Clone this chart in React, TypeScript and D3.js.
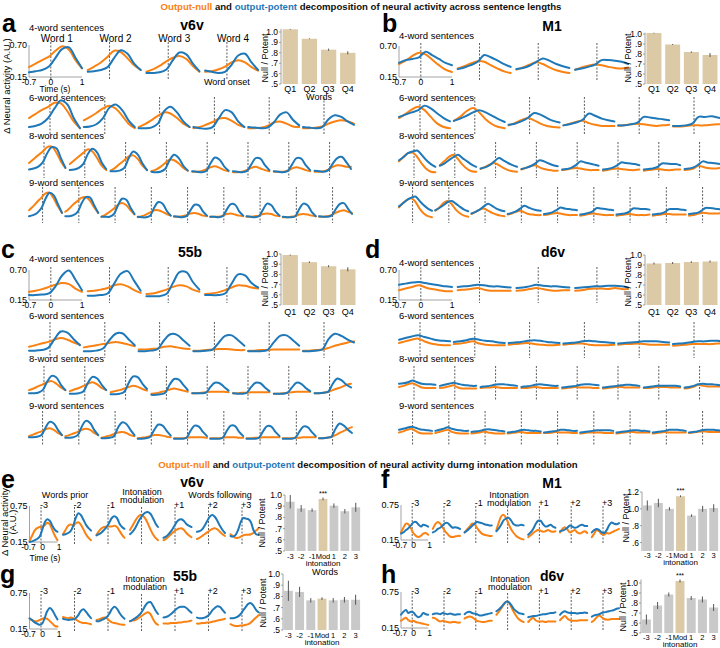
import React from "react";
import * as d3 from "d3";

const FONT = "'Liberation Sans', Arial, Helvetica, sans-serif";
const ORANGE = "#f98212";
const BLUE = "#1f78b8";
const TAN = "#dccaa6";
const GREY = "#c9c9c9";
const AXIS = "#8a8a8a";
const DASH = "#333";

// sample times (s) for the traces
const T_SENT = [-0.7, -0.49, -0.28, -0.06, 0.15, 0.36, 0.58, 0.79, 1.0];
const T_INTO = [-0.7, -0.55, -0.39, -0.24, -0.08, 0.07, 0.23, 0.38, 0.54, 0.69, 0.85, 1.0];

// ---------- panel a : v6v (values in 1/100 A.U.) ----------
const v6vNull4 = [[32,38,44,50,60,68,62,44,30],[27,33,40,50,60,58,47,35,27],[24,28,34,42,48,51,46,34,24],[24,25,28,33,40,44,40,32,26]];
const v6vPot4 = [[23,25,27,33,48,63,66,48,30],[24,25,27,32,48,61,55,38,27],[22,22,23,28,44,57,54,38,25],[26,24,22,24,36,52,55,40,27]];
const v6vNull6 = [[38,45,52,58,65,64,50,32,20],[34,40,47,55,60,55,42,28,20],[22,27,34,42,48,46,38,28,22],[20,22,26,31,37,38,33,26,22],[20,20,21,24,30,32,28,23,22],[20,20,21,23,28,32,34,32,28]];
const v6vPot6 = [[22,24,28,38,55,69,62,38,20],[22,23,27,38,56,62,52,34,22],[20,20,21,28,50,58,48,32,22],[22,20,19,22,38,52,48,32,22],[22,21,20,21,30,44,48,35,25],[22,21,20,22,36,43,40,32,26]];
const v6vNull8 = [[37,44,51,58,66,67,56,40,28],[35,42,49,56,62,58,46,32,24],[23,28,35,42,49,51,44,32,24],[22,25,30,37,43,42,36,28,23],[21,21,22,25,29,31,28,24,22],[20,20,21,24,28,30,27,24,22],[21,21,21,23,27,29,27,24,22],[21,21,22,25,30,33,32,30,30]];
const v6vPot8 = [[25,27,30,38,55,66,64,46,28],[24,25,28,36,54,63,56,38,26],[22,22,23,28,46,58,52,36,24],[21,20,21,26,42,52,46,32,23],[22,21,20,22,36,47,43,31,23],[22,21,20,22,34,46,45,33,24],[22,21,20,22,34,46,45,33,24],[23,22,21,24,36,46,48,38,26]];
const v6vNull9 = [[33,40,48,56,64,65,54,40,28],[30,36,44,50,56,57,50,38,28],[21,25,30,36,43,46,42,33,25],[20,22,25,29,33,33,30,26,23],[21,21,22,24,27,28,26,23,22],[21,21,21,23,26,27,25,23,22],[21,21,22,23,26,27,26,23,22],[20,20,21,22,25,26,25,23,22],[21,21,22,24,28,31,33,30,28]];
const v6vPot9 = [[22,24,28,37,54,65,60,44,28],[22,22,24,30,46,57,56,42,28],[21,21,21,26,42,54,52,38,26],[21,20,20,23,38,48,45,32,23],[22,21,20,22,33,43,42,31,23],[21,21,20,22,34,44,43,31,23],[22,21,20,22,34,45,42,31,23],[21,20,20,22,35,45,42,30,22],[22,21,21,23,34,44,46,36,26]];

// ---------- panel b : M1 ----------
const m1Null4 = [[38,44,52,58,55,46,36,28,24],[30,34,39,43,42,36,30,25,22],[28,32,37,41,38,32,27,24,22],[28,32,35,37,36,33,31,30,32]];
const m1Pot4 = [[40,45,47,50,60,54,47,40,36],[29,32,36,42,54,50,44,38,33],[29,31,35,42,48,44,38,34,31],[28,30,33,37,45,45,44,42,38]];
const m1Null6 = [[38,45,53,58,52,40,28,22,20],[33,40,50,56,48,36,27,22,20],[25,29,34,38,34,28,24,22,21],[25,28,31,33,29,26,24,24,24],[24,25,27,28,27,25,24,25,26],[23,23,24,25,25,25,26,27,27]];
const m1Pot6 = [[40,44,48,52,60,55,46,38,32],[33,37,42,48,52,48,42,36,31],[26,28,32,38,47,44,38,33,30],[25,27,30,35,46,42,37,34,32],[25,25,27,30,40,39,37,36,34],[24,24,25,28,40,40,41,39,36]];
const m1Null8 = [[40,48,55,56,48,36,26,21,20],[33,40,48,52,44,34,26,22,21],[26,30,34,37,33,28,24,22,21],[25,28,31,33,29,26,24,23,23],[24,25,27,28,27,25,24,24,24],[23,24,26,27,26,25,24,24,25],[23,24,25,26,25,24,24,25,25],[24,25,27,32,30,28,27,27,28]];
const m1Pot8 = [[42,48,55,58,60,52,42,35,30],[32,36,42,48,52,46,40,34,30],[27,29,33,40,46,42,37,33,30],[26,28,31,36,42,40,36,33,31],[25,26,28,33,40,38,36,34,32],[25,26,28,32,38,37,36,35,33],[25,26,27,30,36,36,35,35,33],[26,27,29,34,40,38,37,36,35]];
const m1Null9 = [[38,46,52,55,48,36,27,22,20],[32,38,46,50,44,34,27,23,21],[26,30,34,36,32,28,25,23,22],[25,27,30,32,29,26,25,24,24],[24,25,27,28,27,25,24,24,24],[23,24,26,27,26,25,24,24,24],[23,24,25,26,25,24,24,24,25],[23,24,25,26,26,25,25,25,25],[23,24,26,28,28,27,27,27,28]];
const m1Pot9 = [[40,46,52,56,58,50,42,36,32],[33,37,42,48,50,45,39,34,31],[27,30,34,40,45,41,36,33,31],[26,28,31,36,41,38,35,33,32],[26,27,29,33,38,36,35,34,33],[25,26,28,31,37,36,35,34,33],[25,26,27,30,36,36,35,35,34],[25,26,27,30,35,35,35,34,33],[26,27,28,32,37,37,36,35,34]];

// ---------- panel c : 55b ----------
const b55Null4 = [[30,32,35,39,43,46,44,36,30],[31,32,34,37,42,44,40,33,28],[26,27,30,34,39,42,40,34,30],[26,27,29,33,38,42,41,38,36]];
const b55Pot4 = [[24,24,25,27,40,60,69,52,33],[23,23,24,27,45,63,68,50,32],[22,22,22,26,46,66,66,48,34],[24,24,24,27,45,62,60,46,38]];
const b55Null6 = [[30,33,36,39,43,46,43,38,34],[29,31,33,35,37,39,37,34,31],[25,25,26,27,30,31,29,27,26],[23,23,24,25,26,26,25,24,24],[23,23,24,24,25,25,25,25,25],[23,23,24,25,28,32,35,38,40]];
const b55Pot6 = [[23,23,24,28,44,58,56,44,33],[22,22,23,27,42,54,55,44,33],[22,22,23,26,42,53,52,42,32],[22,22,23,25,38,50,51,42,32],[22,22,22,24,38,50,51,42,32],[22,22,23,25,44,54,50,43,38]];
const b55Null8 = [[30,33,37,41,45,47,42,35,30],[28,31,34,38,42,45,41,34,30],[26,28,30,33,36,38,36,32,29],[23,24,26,28,31,33,31,29,27],[24,24,25,26,27,27,27,27,26],[24,24,25,25,26,26,26,26,26],[23,23,24,25,26,27,27,27,27],[24,24,25,27,30,33,36,40,42]];
const b55Pot8 = [[24,24,25,30,46,57,54,40,30],[23,23,24,28,44,55,52,40,30],[22,22,23,27,44,56,54,42,32],[21,21,22,25,40,51,50,40,30],[24,24,24,25,36,44,43,36,29],[24,23,23,25,36,44,43,35,28],[23,23,23,25,35,44,42,34,28],[24,24,25,27,42,52,48,40,35]];
const b55Null9 = [[28,31,34,37,41,43,40,34,30],[28,30,33,36,40,42,40,34,30],[25,27,29,32,35,36,34,30,28],[24,25,26,28,30,30,29,27,26],[24,24,24,25,26,26,26,26,25],[24,24,24,25,26,26,26,25,25],[24,24,25,25,26,26,26,26,26],[24,24,24,25,25,26,26,26,26],[24,24,25,27,30,34,38,42,45]];
const b55Pot9 = [[26,26,27,30,44,55,52,40,30],[25,25,26,30,46,57,53,40,30],[24,24,25,28,44,54,51,40,30],[23,23,24,27,40,50,48,38,29],[23,23,23,25,38,48,46,36,28],[23,23,23,25,38,48,47,36,28],[23,23,23,25,37,47,46,36,28],[23,23,23,25,36,46,45,36,28],[24,24,25,27,42,52,48,40,34]];

// ---------- panel d : d6v ----------
const d6vNull4 = [[33,36,39,42,38,35,33,31,31],[33,34,35,37,34,32,32,32,32],[32,33,35,37,35,33,32,33,33],[32,33,35,36,36,35,37,35,35]];
const d6vPot4 = [[43,45,47,48,46,44,42,40,39],[39,40,41,43,42,40,40,39,38],[37,38,40,43,41,40,40,39,38],[37,38,39,40,40,41,41,40,38]];
const d6vNull6 = [[37,40,43,45,40,36,34,33,33],[35,36,38,40,36,34,33,33,33],[34,35,36,37,35,34,33,33,34],[34,35,36,36,34,33,33,33,34],[34,35,35,36,35,34,34,34,34],[32,33,34,35,35,35,35,36,36]];
const d6vPot6 = [[43,46,49,51,48,45,42,41,40],[39,40,42,45,43,41,40,38,37],[37,38,39,41,42,41,39,38,37],[36,37,38,40,41,40,39,38,37],[36,37,38,39,40,40,40,39,38],[35,36,37,39,40,40,41,41,39]];
const d6vNull8 = [[36,38,41,43,39,35,34,34,34],[34,35,37,39,35,33,33,33,33],[34,35,35,36,35,34,34,34,34],[34,34,35,36,35,34,34,34,34],[33,34,35,36,35,35,35,34,34],[33,34,35,36,36,35,35,35,35],[34,34,35,36,36,36,35,35,35],[33,34,36,40,38,37,37,37,37]];
const d6vPot8 = [[42,43,45,48,45,42,41,41,40],[38,40,42,44,42,40,39,38,38],[36,37,38,40,41,41,40,39,38],[36,37,38,40,41,40,39,38,38],[35,36,37,38,40,41,41,40,39],[35,36,37,38,39,40,40,39,38],[35,36,37,38,38,38,38,38,37],[35,36,38,41,42,41,41,40,39]];
const d6vNull9 = [[35,37,40,42,38,34,33,33,33],[34,36,38,40,36,34,33,33,33],[33,34,35,37,35,34,33,33,33],[33,34,35,36,35,34,34,34,34],[34,34,35,36,35,35,35,34,34],[33,34,35,35,35,35,34,34,34],[33,34,35,36,36,35,35,35,35],[33,34,35,36,35,35,35,35,35],[34,35,36,37,37,36,36,36,36]];
const d6vPot9 = [[40,42,44,46,44,41,40,39,38],[38,40,42,45,42,40,39,38,38],[36,37,38,40,41,40,39,38,37],[35,36,37,39,40,39,38,38,37],[35,36,37,38,40,40,39,38,38],[35,36,37,38,39,39,39,39,38],[35,36,37,38,39,39,38,38,37],[35,36,37,38,40,40,40,39,38],[35,36,37,39,40,40,40,39,38]];

// ---------- panels e-h : intonation modulation ----------
const v6vIntNull = [[17,25,34,38,40,40,43,47,44,35,25,18],[28,35,42,44,43,46,48,44,36,28,22,18],[27,33,38,40,41,41,41,42,40,34,27,22],[35,42,50,56,60,59,54,46,36,28,22,18],[18,20,24,28,32,35,37,38,35,30,26,23],[20,22,25,28,31,34,37,38,36,32,28,25],[28,25,22,22,24,26,27,27,28,30,34,38]];
const v6vIntPot = [[15,16,18,20,24,35,48,53,50,42,35,32],[27,28,30,33,42,55,63,60,52,44,38,34],[26,28,31,35,40,47,55,58,55,46,40,37],[28,32,38,46,54,60,64,65,62,55,46,40],[22,24,28,33,40,47,52,53,50,45,42,40],[32,33,36,42,50,57,60,57,50,42,35,30],[25,24,27,35,48,55,54,53,48,35,28,27]];
const m1IntNull = [[28,36,43,42,35,27,22,20,22,26,27,24],[34,42,46,43,36,30,25,21,20,21,22,22],[28,33,38,43,42,36,30,26,24,23,22,22],[32,45,56,58,52,42,33,27,22,19,17,16],[20,23,27,30,32,31,29,30,32,30,29,30],[28,34,37,33,28,30,32,28,26,28,30,27],[20,26,32,30,25,24,27,26,28,30,32,34]];
const m1IntPot = [[26,28,32,35,40,45,46,42,38,41,40,38],[28,30,34,36,40,44,44,40,36,37,36,34],[28,31,35,39,43,46,45,44,42,41,40,40],[30,35,42,49,52,53,48,42,40,40,41,40],[24,28,34,42,48,48,42,38,39,41,38,36],[30,31,33,36,40,38,36,37,40,41,39,39],[28,32,34,32,28,27,32,40,45,43,42,44]];
const b55IntNull = [[32,30,28,28,30,32,33,32,28,24,20,19],[35,34,33,34,33,31,28,26,25,25,24,23],[30,31,33,34,33,29,26,25,24,23,22,22],[28,29,30,32,35,38,41,43,40,32,25,22],[24,24,24,25,25,25,26,26,27,27,28,29],[24,24,25,25,26,26,27,28,29,30,31,32],[23,21,20,20,21,21,22,23,26,30,34,38]];
const b55IntPot = [[33,30,26,24,22,24,34,45,50,46,38,31],[32,31,30,31,31,33,38,45,48,44,38,33],[28,28,30,32,35,40,48,52,49,42,36,32],[28,30,33,36,40,46,54,59,60,54,46,40],[34,35,37,40,44,48,51,52,52,50,46,42],[34,33,33,34,36,40,46,50,53,52,47,42],[33,33,34,36,40,46,52,57,58,54,47,43]];
const d6vIntNull = [[27,30,32,28,26,27,25,24,23,22,21,20],[32,31,28,26,27,26,25,24,25,25,24,24],[31,33,34,33,30,27,26,25,25,26,27,27],[37,42,48,54,59,58,50,42,35,30,27,25],[25,29,32,28,26,26,26,25,26,26,26,26],[28,32,35,31,28,27,27,27,28,28,28,28],[25,28,33,36,33,30,29,29,30,30,30,30]];
const d6vIntPot = [[37,42,45,40,42,41,36,33,35,40,38,37],[38,39,39,38,40,39,38,39,38,37,38,38],[38,41,42,40,39,38,36,36,37,38,39,40],[43,46,50,55,59,58,53,47,43,40,39,38],[33,34,35,35,36,37,38,38,39,40,40,41],[37,41,43,41,40,40,40,39,40,40,41,40],[34,36,37,38,40,41,42,43,44,45,47,48]];

// ---------- Null / Potent ratios ----------
const quartiles = ["Q1", "Q2", "Q3", "Q4"];
const v6vRatio = [1.026, 0.935, 0.83, 0.80];
const v6vRatioErr = [0.004, 0.004, 0.01, 0.015];
const m1Ratio = [1.01, 0.895, 0.82, 0.79];
const m1RatioErr = [0.003, 0.005, 0.007, 0.02];
const b55Ratio = [0.99, 0.92, 0.88, 0.85];
const b55RatioErr = [0.005, 0.008, 0.01, 0.02];
const d6vRatio = [0.915, 0.92, 0.93, 0.935];
const d6vRatioErr = [0.01, 0.01, 0.008, 0.01];

const intoCats = ["-3", "-2", "-1", "Mod", "1", "2", "3"];
const v6vIntRatio = [0.94, 0.88, 0.865, 0.965, 0.905, 0.855, 0.89];
const v6vIntErr = [0.06, 0.03, 0.015, 0.012, 0.02, 0.02, 0.04];
const m1IntRatio = [1.04, 1.07, 1.0, 1.15, 0.92, 1.0, 1.01];
const m1IntErr = [0.06, 0.05, 0.02, 0.01, 0.015, 0.035, 0.045];
const b55IntRatio = [0.85, 0.84, 0.765, 0.78, 0.765, 0.77, 0.77];
const b55IntErr = [0.09, 0.045, 0.02, 0.012, 0.02, 0.025, 0.045];
const d6vIntRatio = [0.635, 0.775, 0.885, 1.02, 0.85, 0.835, 0.755];
const d6vIntErr = [0.05, 0.035, 0.02, 0.015, 0.02, 0.03, 0.035];

const ratioTicks = [0.5, 0.6, 0.7, 0.8, 0.9, 1.0];
const m1IntTicks = [0.6, 0.8, 1.0, 1.2];
const intoOffsets = ["-3", "-2", "-1", "", "+1", "+2", "+3"];

// layout of sentence rows: horizontal step and trace width by sentence length
const SENT_GEOM: Record<number, { step: number; w: number }> = {
  4: { step: 58.7, w: 53 },
  6: { step: 54.8, w: 51 },
  8: { step: 40.8, w: 36.4 },
  9: { step: 36.25, w: 33 },
};

const fmtTick = (v: number) => (v >= 1 ? d3.format(".1f")(v) : d3.format(".1f")(v).replace(/^0/, ""));

function Trace({ vals, ts, xs, ys, color }: any) {
  const d = d3
    .line<number>()
    .x((_, i) => xs(ts[i]))
    .y((v) => ys(v / 100))
    .curve(d3.curveCatmullRom.alpha(0.5))(vals);
  return <path d={d || ""} fill="none" stroke={color} strokeWidth={2} strokeLinejoin="round" strokeLinecap="round" />;
}

function SentencePanel({ x0, tops, bottoms, labelYs, nulls, pots }: any) {
  const g0 = SENT_GEOM[nulls[0].length];
  const xs0 = d3.scaleLinear([-0.7, 1], [x0, x0 + g0.w]);
  return (
    <g>
      <line x1={x0} x2={x0} y1={tops[0]} y2={bottoms[0]} stroke={AXIS} strokeWidth={0.8} />
      <line x1={x0} x2={x0 + g0.w} y1={bottoms[0]} y2={bottoms[0]} stroke={AXIS} strokeWidth={0.8} />
      <text x={x0 - 2} y={tops[0] + 3} fontSize={9} textAnchor="end">0.70</text>
      <text x={x0 - 2} y={bottoms[0] + 3} fontSize={9} textAnchor="end">0.15</text>
      {[-0.7, 0, 1].map((t) => (
        <text key={t} x={xs0(t)} y={bottoms[0] + 8} fontSize={8.5} textAnchor="middle">{t === -0.7 ? "-0.7" : String(t)}</text>
      ))}
      {nulls.map((rowN: number[][], r: number) => {
        const n = rowN.length;
        const g = SENT_GEOM[n];
        const ys = d3.scaleLinear([0.15, 0.7], [bottoms[r], tops[r]]);
        return (
          <g key={r}>
            <text x={x0} y={labelYs[r]} fontSize={9.5}>{`${n}-word sentences`}</text>
            {rowN.map((vals, j) => {
              const px = x0 + j * g.step;
              const xs = d3.scaleLinear([-0.7, 1], [px, px + g.w]);
              return (
                <g key={j}>
                  <line x1={xs(0)} x2={xs(0)} y1={tops[r] - 3} y2={bottoms[r] + 3} stroke={DASH} strokeWidth={0.8} strokeDasharray="2,1.5" />
                  <Trace vals={vals} ts={T_SENT} xs={xs} ys={ys} color={ORANGE} />
                  <Trace vals={pots[r][j]} ts={T_SENT} xs={xs} ys={ys} color={BLUE} />
                </g>
              );
            })}
          </g>
        );
      })}
    </g>
  );
}

function IntoPanel({ x0, top, bottom, step, w, nulls, pots, numY, modX, modY }: any) {
  const ys = d3.scaleLinear([0.15, 0.75], [bottom, top]);
  const xs0 = d3.scaleLinear([-0.7, 1], [x0, x0 + w]);
  return (
    <g>
      <line x1={x0} x2={x0} y1={top} y2={bottom} stroke={AXIS} strokeWidth={0.8} />
      <line x1={x0} x2={x0 + w} y1={bottom} y2={bottom} stroke={AXIS} strokeWidth={0.8} />
      <text x={x0 - 2} y={top + 3} fontSize={9} textAnchor="end">0.75</text>
      <text x={x0 - 2} y={bottom + 3} fontSize={9} textAnchor="end">0.15</text>
      {[-0.7, 0, 1].map((t) => (
        <text key={t} x={xs0(t) + (t === -0.7 ? -1 : 1.5)} y={bottom + 8} fontSize={8.5} textAnchor="middle">{t === -0.7 ? "-0.7" : String(t)}</text>
      ))}
      <text x={modX} y={modY} fontSize={9} textAnchor="middle">Intonation</text>
      <text x={modX} y={modY + 8} fontSize={9} textAnchor="middle">modulation</text>
      {nulls.map((vals: number[], j: number) => {
        const px = x0 + j * step;
        const xs = d3.scaleLinear([-0.7, 1], [px, px + w]);
        return (
          <g key={j}>
            <line x1={xs(0)} x2={xs(0)} y1={top + 1} y2={bottom + 3} stroke={DASH} strokeWidth={0.8} strokeDasharray="2,1.5" />
            {intoOffsets[j] && (
              <text x={xs(0) - 1} y={numY} fontSize={9}>{intoOffsets[j]}</text>
            )}
            <Trace vals={vals} ts={T_INTO} xs={xs} ys={ys} color={ORANGE} />
            <Trace vals={pots[j]} ts={T_INTO} xs={xs} ys={ys} color={BLUE} />
          </g>
        );
      })}
    </g>
  );
}

function BarChart({ x0, x1, v0, y0, v1, y1, cats, vals, errs, colors, ticks, catY, titleX, titleY, pad, stars, catFont, intoLabel }: any) {
  const ys = d3.scaleLinear([v0, v1], [y0, y1]);
  const xb = d3.scaleBand<string>().domain(cats).range([x0, x1]).paddingInner(pad).paddingOuter(0.08);
  const top = Math.max(d3.max(ticks as number[])!, d3.max(vals.map((v: number, i: number) => v + errs[i]))!);
  const cx = (c: string) => xb(c)! + xb.bandwidth() / 2;
  return (
    <g>
      <line x1={x0} x2={x0} y1={ys(v0)} y2={ys(top)} stroke={AXIS} strokeWidth={0.8} />
      {ticks.map((t: number) => (
        <g key={t}>
          <line x1={x0 - 2} x2={x0} y1={ys(t)} y2={ys(t)} stroke={AXIS} strokeWidth={0.8} />
          <text x={x0 - 3} y={ys(t) + 3} fontSize={8.5} textAnchor="end">{fmtTick(t)}</text>
        </g>
      ))}
      {cats.map((c: string, i: number) => (
        <g key={c}>
          <rect x={xb(c)} y={ys(vals[i])} width={xb.bandwidth()} height={ys(v0) - ys(vals[i])} fill={colors[i]} />
          <line x1={cx(c)} x2={cx(c)} y1={ys(vals[i] - errs[i])} y2={ys(vals[i] + errs[i])} stroke="#555" strokeWidth={1} />
          <text x={cx(c)} y={catY} fontSize={catFont || 9} textAnchor="middle">{c}</text>
          {stars && c === "Mod" && (
            <text x={cx(c)} y={ys(vals[i] + errs[i]) - 2} fontSize={7} textAnchor="middle">***</text>
          )}
        </g>
      ))}
      {intoLabel && (
        <text x={cx("Mod")} y={catY + 7} fontSize={8} textAnchor="middle">intonation</text>
      )}
      <text transform={`translate(${titleX},${titleY}) rotate(-90)`} fontSize={9} textAnchor="middle">Null / Potent</text>
    </g>
  );
}

function PanelLabel({ x, y, letter }: any) {
  return <text x={x} y={y} fontSize={25} fontWeight="bold">{letter}</text>;
}
function AreaTitle({ x, y, name }: any) {
  return <text x={x} y={y} fontSize={14} fontWeight="bold" textAnchor="middle">{name}</text>;
}

export default function App() {
  const tanSet = quartiles.map(() => TAN);
  const intoColors = intoCats.map((c) => (c === "Mod" ? TAN : GREY));
  const wordX = d3.range(4).map((j) => 29 + j * SENT_GEOM[4].step + 0.7 * (SENT_GEOM[4].w / 1.7));
  return (
    <svg width={720} height={648} style={{ position: "absolute", left: 0, top: 0, background: "#fff" }} fontFamily={FONT}>
      <rect width={720} height={648} fill="#fff" />
      <text x={361} y={10} fontSize={9.6} fontWeight="bold" textAnchor="middle">
        <tspan fill={ORANGE}>Output-null</tspan>
        <tspan fill="#111"> and </tspan>
        <tspan fill={BLUE}>output-potent</tspan>
        <tspan fill="#111"> decomposition of neural activity across sentence lengths</tspan>
      </text>

      {/* a */}
      <PanelLabel x={2} y={32} letter="a" />
      <AreaTitle x={192} y={30} name="v6v" />
      <text transform="translate(10,86) rotate(-90)" fontSize={9.5} textAnchor="middle">Δ Neural activity (A.U.)</text>
      {wordX.map((x, j) => (
        <text key={j} x={x + 6} y={42} fontSize={10} textAnchor="middle">{`Word ${j + 1}`}</text>
      ))}
      <SentencePanel x0={29} tops={[45, 100, 145, 190]} bottoms={[77, 131, 175, 220]} labelYs={[31, 101, 139, 186]} nulls={[v6vNull4, v6vNull6, v6vNull8, v6vNull9]} pots={[v6vPot4, v6vPot6, v6vPot8, v6vPot9]} />
      <text x={55} y={92} fontSize={8.5} textAnchor="middle">Time (s)</text>
      <text x={wordX[3]} y={85} fontSize={9} textAnchor="middle">Word onset</text>
      <BarChart x0={281} x1={357} v0={0.5} y0={84} v1={1.0} y1={32} cats={quartiles} vals={v6vRatio} errs={v6vRatioErr} colors={tanSet} ticks={ratioTicks} catY={92} titleX={268} titleY={58} pad={0.2} />
      <text x={319} y={100} fontSize={9} textAnchor="middle">Words</text>

      {/* b */}
      <PanelLabel x={382} y={32} letter="b" />
      <AreaTitle x={552} y={31} name="M1" />
      <SentencePanel x0={399} tops={[46, 100, 145, 190]} bottoms={[77, 131, 175, 220]} labelYs={[39, 101, 139, 186]} nulls={[m1Null4, m1Null6, m1Null8, m1Null9]} pots={[m1Pot4, m1Pot6, m1Pot8, m1Pot9]} />
      <BarChart x0={645} x1={719} v0={0.5} y0={84} v1={1.0} y1={34} cats={quartiles} vals={m1Ratio} errs={m1RatioErr} colors={tanSet} ticks={ratioTicks} catY={92} titleX={631} titleY={58} pad={0.2} />

      {/* c */}
      <PanelLabel x={1} y={258} letter="c" />
      <AreaTitle x={190} y={257} name="55b" />
      <SentencePanel x0={29} tops={[270, 325, 369, 414]} bottoms={[300, 355, 398, 443]} labelYs={[262, 319, 362, 409]} nulls={[b55Null4, b55Null6, b55Null8, b55Null9]} pots={[b55Pot4, b55Pot6, b55Pot8, b55Pot9]} />
      <BarChart x0={281} x1={357} v0={0.5} y0={305} v1={1.0} y1={254} cats={quartiles} vals={b55Ratio} errs={b55RatioErr} colors={tanSet} ticks={ratioTicks} catY={315} titleX={268} titleY={282} pad={0.2} />

      {/* d */}
      <PanelLabel x={365} y={258} letter="d" />
      <AreaTitle x={553} y={257} name="d6v" />
      <SentencePanel x0={399} tops={[270, 325, 369, 414]} bottoms={[300, 355, 398, 443]} labelYs={[266, 319, 362, 409]} nulls={[d6vNull4, d6vNull6, d6vNull8, d6vNull9]} pots={[d6vPot4, d6vPot6, d6vPot8, d6vPot9]} />
      <BarChart x0={645} x1={719} v0={0.5} y0={305} v1={1.0} y1={255} cats={quartiles} vals={d6vRatio} errs={d6vRatioErr} colors={tanSet} ticks={ratioTicks} catY={315} titleX={631} titleY={282} pad={0.2} />

      <text x={368} y={468} fontSize={9.6} fontWeight="bold" textAnchor="middle">
        <tspan fill={ORANGE}>Output-null</tspan>
        <tspan fill="#111"> and </tspan>
        <tspan fill={BLUE}>output-potent</tspan>
        <tspan fill="#111"> decomposition of neural activity durng intonation modulation</tspan>
      </text>

      {/* e */}
      <PanelLabel x={1} y={488} letter="e" />
      <AreaTitle x={192} y={487} name="v6v" />
      <text transform="translate(8,522) rotate(-90)" fontSize={9.5} textAnchor="middle">Δ Neural activity</text>
      <text transform="translate(16,522) rotate(-90)" fontSize={9.5} textAnchor="middle">(A.U.)</text>
      <text x={65} y={498} fontSize={9} textAnchor="middle">Words prior</text>
      <text x={220} y={498} fontSize={9} textAnchor="middle">Words following</text>
      <IntoPanel x0={29.5} top={506} bottom={542} step={33.5} w={28} nulls={v6vIntNull} pots={v6vIntPot} numY={508} modX={142} modY={495} />
      <text x={45} y={561} fontSize={8.5} textAnchor="middle">Time (s)</text>
      <BarChart x0={285} x1={361} v0={0.5} y0={551} v1={1.0} y1={495} cats={intoCats} vals={v6vIntRatio} errs={v6vIntErr} colors={intoColors} ticks={ratioTicks} catY={559} titleX={265} titleY={523} pad={0.2} stars intoLabel catFont={7.5} />
      <text x={325} y={575} fontSize={9} textAnchor="middle">Words</text>

      {/* f */}
      <PanelLabel x={381} y={488} letter="f" />
      <AreaTitle x={552} y={488} name="M1" />
      <IntoPanel x0={401} top={505} bottom={540} step={31.8} w={27.2} nulls={m1IntNull} pots={m1IntPot} numY={506} modX={509} modY={498} />
      <BarChart x0={642} x1={719} v0={0.5} y0={551} v1={1.2} y1={492} cats={intoCats} vals={m1IntRatio} errs={m1IntErr} colors={intoColors} ticks={m1IntTicks} catY={558} titleX={629} titleY={518} pad={0.2} stars intoLabel catFont={7.5} />

      {/* g */}
      <PanelLabel x={0} y={583} letter="g" />
      <AreaTitle x={185} y={581} name="55b" />
      <IntoPanel x0={29.5} top={593} bottom={629} step={33.5} w={28} nulls={b55IntNull} pots={b55IntPot} numY={594} modX={145} modY={582} />
      <BarChart x0={283} x1={361} v0={0.5} y0={630} v1={1.0} y1={574} cats={intoCats} vals={b55IntRatio} errs={b55IntErr} colors={intoColors} ticks={ratioTicks} catY={638} titleX={266} titleY={603} pad={0.2} stars={false} intoLabel catFont={7.5} />

      {/* h */}
      <PanelLabel x={381} y={583} letter="h" />
      <AreaTitle x={552} y={581} name="d6v" />
      <IntoPanel x0={401} top={592} bottom={628} step={31.8} w={27.2} nulls={d6vIntNull} pots={d6vIntPot} numY={594} modX={510} modY={582} />
      <BarChart x0={641} x1={719} v0={0.5} y0={633} v1={1.0} y1={583} cats={intoCats} vals={d6vIntRatio} errs={d6vIntErr} colors={intoColors} ticks={ratioTicks} catY={640} titleX={626} titleY={607} pad={0.2} stars intoLabel catFont={7.5} />
    </svg>
  );
}
